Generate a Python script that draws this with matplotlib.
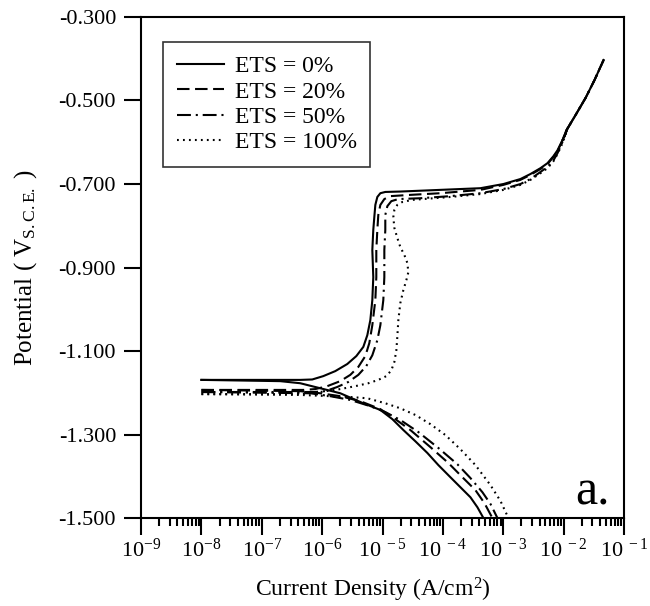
"""Potentiodynamic polarization curves for different ETS contents."""

import matplotlib
matplotlib.use("Agg")
import matplotlib.pyplot as plt
from matplotlib.ticker import LogLocator, NullFormatter

plt.rcParams["font.family"] = ["Liberation Serif", "DejaVu Serif"]
plt.rcParams["mathtext.fontset"] = "custom"
plt.rcParams["mathtext.rm"] = "Liberation Serif"
plt.rcParams["mathtext.it"] = "Liberation Serif:italic"
plt.rcParams["axes.unicode_minus"] = False
plt.rcParams["lines.scale_dashes"] = False

# log10 current density (A/cm2) and potential (V vs SCE)
labels = ["ETS = 0%", "ETS = 20%", "ETS = 50%", "ETS = 100%"]

# upper (transpassive) part shared by all four curves
top_logi = [-2.018, -1.952, -1.803, -1.637, -1.488, -1.338]
top_e = [-0.595, -0.571, -0.535, -0.494, -0.451, -0.403]

anodic_0_logi = [-8.0, -6.363, -6.164, -5.982, -5.783, -5.584, -5.434, -5.318, -5.252,
                 -5.202, -5.169, -5.153, -5.169, -5.153, -5.136, -5.119, -5.086, -5.036,
                 -4.954, -4.705, -4.041, -3.378, -2.997, -2.715, -2.549, -2.383, -2.267,
                 -2.167, -2.101]
anodic_0_e = [-1.169, -1.169, -1.168, -1.160, -1.148, -1.131, -1.112, -1.090, -1.062,
              -1.026, -0.978, -0.923, -0.858, -0.810, -0.779, -0.750, -0.731, -0.722,
              -0.719, -0.718, -0.714, -0.710, -0.700, -0.688, -0.676, -0.662, -0.650,
              -0.633, -0.619]

anodic_20_logi = [-8.0, -6.313, -6.114, -5.915, -5.700, -5.534, -5.401, -5.285, -5.219,
                  -5.169, -5.119, -5.103, -5.103, -5.086, -5.070, -5.036, -4.970, -4.871,
                  -4.539, -4.041, -3.378, -2.997, -2.715, -2.549, -2.383, -2.267, -2.167,
                  -2.101]
anodic_20_e = [-1.193, -1.193, -1.191, -1.184, -1.172, -1.157, -1.138, -1.112, -1.081,
               -1.038, -0.978, -0.923, -0.858, -0.810, -0.774, -0.750, -0.736, -0.729,
               -0.726, -0.722, -0.714, -0.702, -0.690, -0.678, -0.664, -0.652, -0.635,
               -0.621]

anodic_50_logi = [-8.0, -6.131, -5.949, -5.750, -5.567, -5.401, -5.269, -5.169, -5.086,
                  -5.036, -4.987, -4.970, -4.970, -4.954, -4.954, -4.920, -4.854, -4.738,
                  -4.373, -3.876, -3.378, -2.997, -2.715, -2.549, -2.383, -2.267, -2.167,
                  -2.101, -2.018, -1.952]
anodic_50_e = [-1.198, -1.198, -1.196, -1.186, -1.174, -1.157, -1.136, -1.110, -1.074,
               -1.038, -0.978, -0.923, -0.858, -0.810, -0.774, -0.753, -0.741, -0.736,
               -0.734, -0.729, -0.722, -0.712, -0.700, -0.688, -0.671, -0.659, -0.643,
               -0.626, -0.599, -0.573]

anodic_100_logi = [-8.0, -6.330, -6.032, -5.700, -5.451, -5.235, -5.070, -4.937, -4.854,
                   -4.804, -4.771, -4.755, -4.738, -4.705, -4.655, -4.605, -4.572, -4.589,
                   -4.638, -4.705, -4.755, -4.804, -4.821, -4.804, -4.755, -4.672, -4.506,
                   -3.876, -3.378, -2.997, -2.715, -2.549, -2.383, -2.267, -2.167, -2.101,
                   -2.018, -1.952]
anodic_100_e = [-1.203, -1.203, -1.198, -1.191, -1.184, -1.177, -1.169, -1.160, -1.146,
                -1.126, -1.098, -1.066, -1.026, -0.985, -0.954, -0.930, -0.911, -0.889,
                -0.870, -0.851, -0.829, -0.805, -0.779, -0.762, -0.750, -0.743, -0.738,
                -0.731, -0.724, -0.714, -0.702, -0.690, -0.674, -0.662, -0.645, -0.628,
                -0.602, -0.575]

cathodic_0_logi = [-8.0, -6.695, -6.363, -6.032, -5.700, -5.318, -5.036, -4.837, -4.655,
                   -4.456, -4.257, -4.075, -3.876, -3.710, -3.544, -3.428, -3.328]
cathodic_0_e = [-1.169, -1.172, -1.177, -1.189, -1.201, -1.225, -1.241, -1.263, -1.289,
                -1.316, -1.344, -1.373, -1.402, -1.426, -1.450, -1.474, -1.500]

cathodic_20_logi = [-8.0, -6.363, -6.032, -5.700, -5.368, -5.036, -4.788, -4.539, -4.207,
                    -3.909, -3.677, -3.461, -3.312, -3.179]
cathodic_20_e = [-1.193, -1.196, -1.201, -1.208, -1.220, -1.239, -1.263, -1.289, -1.330,
                 -1.368, -1.402, -1.433, -1.464, -1.500]

cathodic_50_logi = [-8.0, -6.197, -5.866, -5.534, -5.202, -4.954, -4.705, -4.406, -4.075,
                    -3.760, -3.544, -3.345, -3.212, -3.096]
cathodic_50_e = [-1.198, -1.201, -1.208, -1.217, -1.232, -1.246, -1.265, -1.294, -1.332,
                 -1.371, -1.404, -1.438, -1.466, -1.500]

cathodic_100_logi = [-8.0, -6.363, -5.866, -5.534, -5.252, -4.954, -4.705, -4.456, -4.207,
                     -3.959, -3.710, -3.461, -3.212, -3.046, -2.914]
cathodic_100_e = [-1.203, -1.205, -1.208, -1.210, -1.213, -1.225, -1.237, -1.253, -1.275,
                  -1.301, -1.335, -1.373, -1.421, -1.459, -1.500]

x_ticks = [-9, -8, -7, -6, -5, -4, -3, -2, -1]
x_ticklabels = [r"$10^{-9}$", r"$10^{-8}$", r"$10^{-7}$", r"$10^{-6}$", r"$10^{\ -5}$",
                r"$10^{\ -4}$", r"$10^{\ -3}$", r"$10^{\ -2}$", r"$10^{\ -1}$"]
y_ticks = [-1.5, -1.3, -1.1, -0.9, -0.7, -0.5, -0.3]
y_ticklabels = ["-1.500", "-1.300", "-1.100", "-0.900", "-0.700", "-0.500", "-0.300"]

styles = ["-", (0, (9, 4)), (0, (10, 3.5, 1.5, 3.5)), (0, (1.3, 3))]

anodic = [(anodic_0_logi, anodic_0_e), (anodic_20_logi, anodic_20_e),
          (anodic_50_logi, anodic_50_e), (anodic_100_logi, anodic_100_e)]
cathodic = [(cathodic_0_logi, cathodic_0_e), (cathodic_20_logi, cathodic_20_e),
            (cathodic_50_logi, cathodic_50_e), (cathodic_100_logi, cathodic_100_e)]

fig = plt.figure(figsize=(6.5, 6.06), dpi=100)
ax = fig.add_axes([0.217, 0.145, 0.743, 0.827])

handles = []
for label, ls, (an_x, an_y), (ca_x, ca_y) in zip(labels, styles, anodic, cathodic):
    xs = [10.0 ** v for v in an_x + top_logi]
    line, = ax.plot(xs, an_y + top_e, color="black", lw=1.5, ls=ls, label=label)
    ax.plot([10.0 ** v for v in ca_x], ca_y, color="black", lw=1.5, ls=ls)
    handles.append(line)

ax.set_xscale("log")
ax.set_xlim(1e-9, 1e-1)
ax.set_ylim(-1.5, -0.3)
ax.set_xticks([10.0 ** v for v in x_ticks])
ax.set_xticklabels(x_ticklabels, fontsize=16)
ax.set_yticks(y_ticks)
ax.set_yticklabels(y_ticklabels, fontsize=16)
ax.xaxis.set_minor_locator(LogLocator(base=10, subs=range(2, 10), numticks=20))
ax.xaxis.set_minor_formatter(NullFormatter())
ax.tick_params(which="major", direction="out", length=12, width=1.5, pad=3)
ax.tick_params(axis="y", which="major", pad=6)
ax.tick_params(which="minor", direction="out", length=6, width=1.5)
for spine in ax.spines.values():
    spine.set_linewidth(1.5)

ax.set_xlabel("Current Density (A/cm$^2$)", fontsize=17, labelpad=10)
ax.xaxis.label.set_x(0.48)
ax.set_ylabel(r"Potential ( V$_{\mathrm{S.C.E.}}$ )", fontsize=18, labelpad=14)

ax.text(0.97, 0.005, "a.", transform=ax.transAxes, fontsize=36,
        ha="right", va="bottom")

leg = ax.legend(handles=handles, loc="upper left",
                bbox_to_anchor=(163 / 650, 1 - 42 / 606),
                bbox_transform=fig.transFigure, borderaxespad=0,
                fontsize=17, frameon=True, fancybox=False, edgecolor="black",
                handlelength=2.0, handletextpad=0.45, labelspacing=0.16,
                borderpad=0.58)
leg.get_frame().set_linewidth(1.2)

fig.savefig("out.png", dpi=100)
